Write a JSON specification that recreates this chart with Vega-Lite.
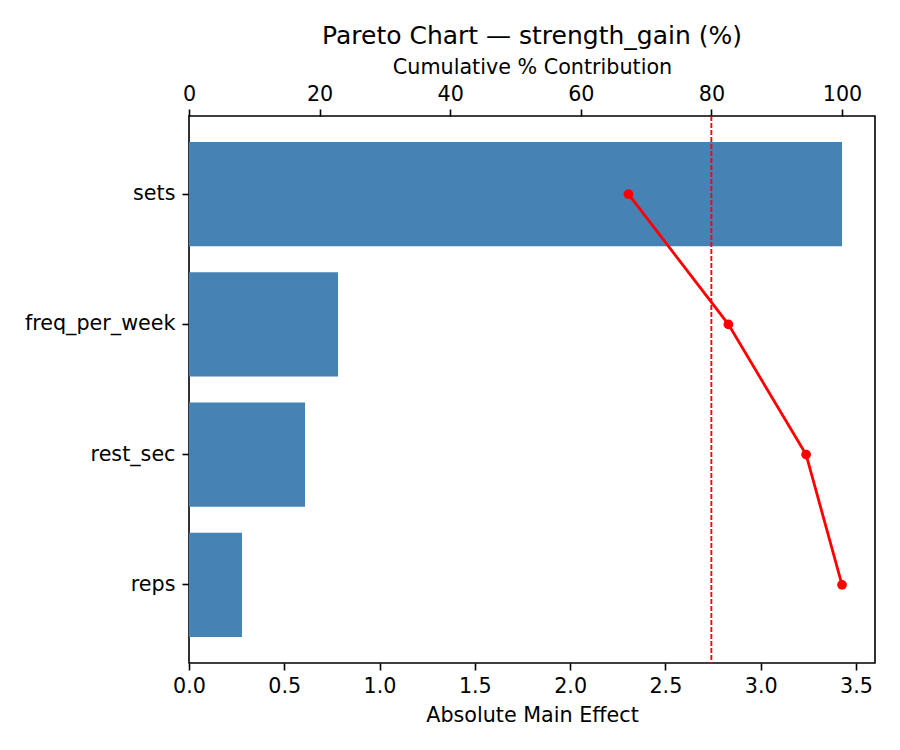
{
  "$schema": "https://vega.github.io/schema/vega-lite/v6.json",
  "width": 686,
  "height": 547,
  "autosize": {"type": "none"},
  "padding": {"left": 189, "top": 116, "right": 25, "bottom": 87},
  "background": "white",
  "title": {
    "text": "Pareto Chart — strength_gain (%)",
    "font": "DejaVu Sans",
    "fontSize": 25,
    "fontWeight": "normal",
    "color": "black",
    "anchor": "middle",
    "offset": 7
  },
  "config": {
    "font": "DejaVu Sans",
    "view": {"stroke": "black", "strokeWidth": 1.6},
    "axis": {
      "grid": false,
      "domain": false,
      "labelFlush": false,
      "labelOverlap": false,
      "tickColor": "black",
      "tickSize": 7,
      "tickWidth": 1.6,
      "labelColor": "black",
      "labelFont": "DejaVu Sans",
      "labelFontSize": 20.7,
      "labelPadding": 6,
      "titleColor": "black",
      "titleFont": "DejaVu Sans",
      "titleFontSize": 20.7,
      "titleFontWeight": "normal"
    }
  },
  "data": {
    "values": [
      {"factor": "sets", "effect": 3.427, "cum_pct": 67.3},
      {"factor": "freq_per_week", "effect": 0.782, "cum_pct": 82.6},
      {"factor": "rest_sec", "effect": 0.609, "cum_pct": 94.5},
      {"factor": "reps", "effect": 0.278, "cum_pct": 100.0}
    ]
  },
  "layer": [
    {
      "mark": {"type": "bar", "color": "#4682b4"},
      "encoding": {
        "y": {
          "field": "factor",
          "type": "nominal",
          "sort": ["sets", "freq_per_week", "rest_sec", "reps"],
          "scale": {"paddingInner": 0.2, "paddingOuter": 0.2},
          "axis": {"title": null, "labelAngle": 0, "labelPadding": 7}
        },
        "x": {
          "field": "effect",
          "type": "quantitative",
          "scale": {"domain": [0, 3.6], "nice": false},
          "axis": {
            "orient": "bottom",
            "title": "Absolute Main Effect",
            "values": [0, 0.5, 1, 1.5, 2, 2.5, 3, 3.5],
            "format": ".1f",
            "titlePadding": 10
          }
        }
      }
    },
    {
      "mark": {
        "type": "line",
        "color": "red",
        "strokeWidth": 2.8,
        "point": {"color": "red", "filled": true, "size": 95, "opacity": 1}
      },
      "encoding": {
        "y": {
          "field": "factor",
          "type": "nominal",
          "sort": ["sets", "freq_per_week", "rest_sec", "reps"]
        },
        "x": {
          "field": "cum_pct",
          "type": "quantitative",
          "scale": {"domain": [0, 105.05], "nice": false},
          "axis": {
            "orient": "top",
            "title": "Cumulative % Contribution",
            "values": [0, 20, 40, 60, 80, 100],
            "labelPadding": 5,
            "titlePadding": 6
          }
        }
      }
    },
    {
      "mark": {
        "type": "rule",
        "color": "red",
        "strokeWidth": 1.4,
        "strokeDash": [5, 2],
        "opacity": 0.7
      },
      "encoding": {
        "x": {
          "datum": 80,
          "type": "quantitative",
          "scale": {"domain": [0, 105.05], "nice": false},
          "axis": null
        }
      }
    }
  ],
  "resolve": {"scale": {"x": "independent"}, "axis": {"x": "independent"}}
}
